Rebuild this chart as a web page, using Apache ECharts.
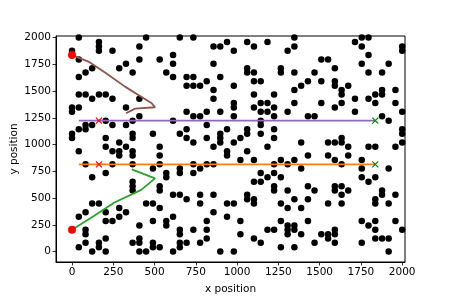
<!DOCTYPE html>
<html>
<head>
<meta charset="utf-8">
<script src="https://cdn.jsdelivr.net/npm/echarts@6/dist/echarts.min.js"></script>
<style>html,body{margin:0;padding:0;background:#fff}#c{width:450px;height:300px}</style>
</head>
<body>
<div id="c"></div>
<script>
// Tick labels
const tickValues = [0, 250, 500, 750, 1000, 1250, 1500, 1750, 2000];

// Obstacles (black dots), grouped by row
const obstacles = [
  [41,2000],[449,2000],[653,2000],[735,2000],[1347,2000],[1755,2000],[1796,2000],
  [163,1959],[939,1959],[1061,1959],[1184,1959],[1714,1959],
  [163,1918],[408,1918],[857,1918],[898,1918],[1102,1918],[1347,1918],[1755,1918],[2000,1918],
  [0,1878],[163,1878],[245,1878],[980,1878],[1306,1878],[2000,1878],
  [612,1837],[1796,1837],
  [41,1796],[408,1796],[531,1796],[1510,1796],[1551,1796],
  [327,1755],[612,1755],[857,1755],[1755,1755],[1918,1755],
  [122,1714],[286,1714],[1061,1714],[1265,1714],[1592,1714],
  [82,1673],[367,1673],[571,1673],[1061,1673],[1102,1673],[1265,1673],[1347,1673],[1469,1673],[1796,1673],[1878,1673],
  [41,1633],[612,1633],[694,1633],[735,1633],[898,1633],
  [816,1592],[1102,1592],[1143,1592],[1429,1592],[1510,1592],[1592,1592],
  [694,1551],[735,1551],[776,1551],[980,1551],[1388,1551],[1592,1551],[1673,1551],
  [857,1510],[1347,1510],[1633,1510],[1878,1510],[1959,1510],
  [41,1469],[82,1469],[163,1469],[204,1469],[1102,1469],[1224,1469],[1633,1469],[1837,1469],[1878,1469],
  [122,1429],[245,1429],[408,1429],[857,1429],[1714,1429],[1796,1429],
  [980,1388],[1143,1388],[1184,1388],[1347,1388],[1510,1388],[1633,1388],[1837,1388],[1959,1388],
  [0,1347],[41,1347],[327,1347],[980,1347],[1102,1347],[1224,1347],[1592,1347],
  [0,1306],[694,1306],[816,1306],[898,1306],[1143,1306],[1184,1306],[1306,1306],[1714,1306],[2000,1306],
  [408,1265],[735,1265],[776,1265],[980,1265],[1224,1265],[1429,1265],[1469,1265],[1878,1265],
  [204,1224],[367,1224],[612,1224],[1143,1224],[1918,1224],
  [82,1184],[122,1184],[245,1184],[327,1184],[816,1184],[1143,1184],
  [41,1143],[82,1143],[694,1143],[939,1143],[1061,1143],[1224,1143],[2000,1143],
  [0,1102],[367,1102],[490,1102],[653,1102],[898,1102],[1061,1102],[1143,1102],[2000,1102],
  [0,1061],[204,1061],[367,1061],[694,1061],[816,1061],[898,1061],[1020,1061],[1224,1061],[1633,1061],
  [286,1020],[735,1020],[898,1020],[980,1020],[1388,1020],[1551,1020],[1592,1020],[1633,1020],[2000,1020],
  [204,980],[327,980],[531,980],[857,980],[1184,980],[1673,980],[1796,980],[1837,980],[1959,980],
  [41,939],[245,939],[286,939],[367,939],[939,939],[1061,939],
  [286,898],[367,898],[531,898],[939,898],[1429,898],[1551,898],[1673,898],
  [1020,857],[1102,857],[1265,857],[1347,857],[1592,857],[1755,857],
  [82,816],[245,816],[367,816],[531,816],[735,816],[816,816],[857,816],[1224,816],[1306,816],[1633,816],
  [490,776],[653,776],[776,776],[1388,776],[1755,776],[1918,776],
  [204,735],[571,735],[653,735],[735,735],[1143,735],[1224,735],
  [122,694],[571,694],[1184,694],[1265,694],[1755,694],[1837,694],
  [367,653],[1102,653],[1143,653],[1796,653],
  [367,612],[531,612],[1224,612],[1429,612],[1592,612],[1633,612],
  [367,571],[531,571],[1224,571],[1306,571],[1469,571],[1592,571],[1673,571],[1878,571],
  [612,531],[653,531],[776,531],[857,531],[1061,531],[1633,531],[1878,531],[1959,531],
  [694,490],[1061,490],[1102,490],[1347,490],[1429,490],[1837,490],
  [122,449],[163,449],[449,449],[490,449],[776,449],[939,449],[980,449],[1102,449],[1265,449],[1551,449],[1633,449],[1837,449],[1918,449],
  [286,408],[531,408],[1306,408],[1388,408],
  [82,367],[204,367],[327,367],[857,367],
  [41,327],[286,327],[612,327],[939,327],
  [204,286],[245,286],[490,286],[571,286],[816,286],[1020,286],[1265,286],[1429,286],[1755,286],[1837,286],[1959,286],
  [408,245],[571,245],[1306,245],[1347,245],[1796,245],
  [82,204],[653,204],[735,204],[816,204],[1184,204],[1224,204],[1306,204],[1347,204],[1592,204],[1837,204],[2000,204],
  [82,163],[653,163],[1020,163],[1306,163],[1388,163],[1510,163],[1551,163],[1592,163],
  [204,122],[408,122],[816,122],[1102,122],[1551,122],[1837,122],[1878,122],[1918,122],
  [82,82],[163,82],[367,82],[408,82],[490,82],[653,82],[694,82],[776,82],[1143,82],[1469,82],[1592,82],[1755,82],
  [41,41],[163,41],[490,41],[531,41],[653,41],[1265,41],[1347,41],
  [122,0],[204,0],[408,0],[449,0],[612,0],[898,0],[980,0],[1918,0]
];

// Start points (red dots)
const startPoints = [[0,204],[0,1837]];
// Paths
const greenPath = [[0,204],[130,330],[257,459],[419,577],[503,685],[362,769]];
const brownPath = [[0,1837],[99,1776],[200,1673],[321,1542],[402,1464],[483,1386],[503,1349],[382,1336],[327,1293]];
const purpleLine = [[41,1224],[1837,1224]];
const orangeLine = [[41,816],[1837,816]];
// Markers
const redCrosses = [[163,1224],[163,816]];
const greenCrosses = [[1837,1224],[1837,816]];

const FONT = 'DejaVu Sans';
const crossPath = 'path://M0,0L10,10M10,0L0,10';

function axisCommon(name, gap) {
  return {
    type: 'value', min: -97, max: 2017,
    name: name, nameLocation: 'middle', nameGap: gap, nameMoveOverlap: false,
    nameTextStyle: {color: '#000', fontSize: 10.5, fontFamily: FONT},
    axisLine: {show: true, onZero: false, lineStyle: {color: '#000', width: 1}},
    axisTick: {show: true, inside: false, length: 3.5, lineStyle: {color: '#000', width: 0.8}, customValues: tickValues},
    axisLabel: {color: '#000', fontSize: 10.5, fontFamily: FONT, margin: 5, customValues: tickValues,
      formatter: function (v) { return String(v); }},
    splitLine: {show: false}
  };
}

const chart = echarts.init(document.getElementById('c'), null, {renderer: 'canvas'});
const yAx = axisCommon('y position', 36);
yAx.max = 2015;
chart.setOption({
  animation: false,
  backgroundColor: '#fff',
  grid: {left: 56, right: 45, top: 36, bottom: 38, containLabel: false, outerBoundsMode: 'none',
    show: true, borderColor: '#000', borderWidth: 1, backgroundColor: 'transparent'},
  xAxis: axisCommon('x position', 22),
  yAxis: yAx,
  series: [
    {type: 'scatter', data: obstacles, symbolSize: 6.5, itemStyle: {color: '#000', opacity: 1}, z: 2},
    {type: 'line', data: purpleLine, showSymbol: false, lineStyle: {color: '#9467bd', width: 1.8}, z: 3},
    {type: 'line', data: orangeLine, showSymbol: false, lineStyle: {color: '#ff7f0e', width: 1.8}, z: 3},
    {type: 'line', data: greenPath, showSymbol: false, lineStyle: {color: '#2ca02c', width: 1.8}, z: 3},
    {type: 'line', data: brownPath, showSymbol: false, lineStyle: {color: '#8c564b', width: 1.8}, z: 3},
    {type: 'scatter', data: startPoints, symbolSize: 8, itemStyle: {color: '#ff0000', opacity: 1}, z: 4},
    {type: 'scatter', data: redCrosses, symbol: crossPath, symbolSize: 6, itemStyle: {color: 'none', borderColor: '#ff0000', borderWidth: 1.2, opacity: 1}, z: 4},
    {type: 'scatter', data: greenCrosses, symbol: crossPath, symbolSize: 6, itemStyle: {color: 'none', borderColor: '#008000', borderWidth: 1.2, opacity: 1}, z: 4}
  ]
});
</script>
</body>
</html>
